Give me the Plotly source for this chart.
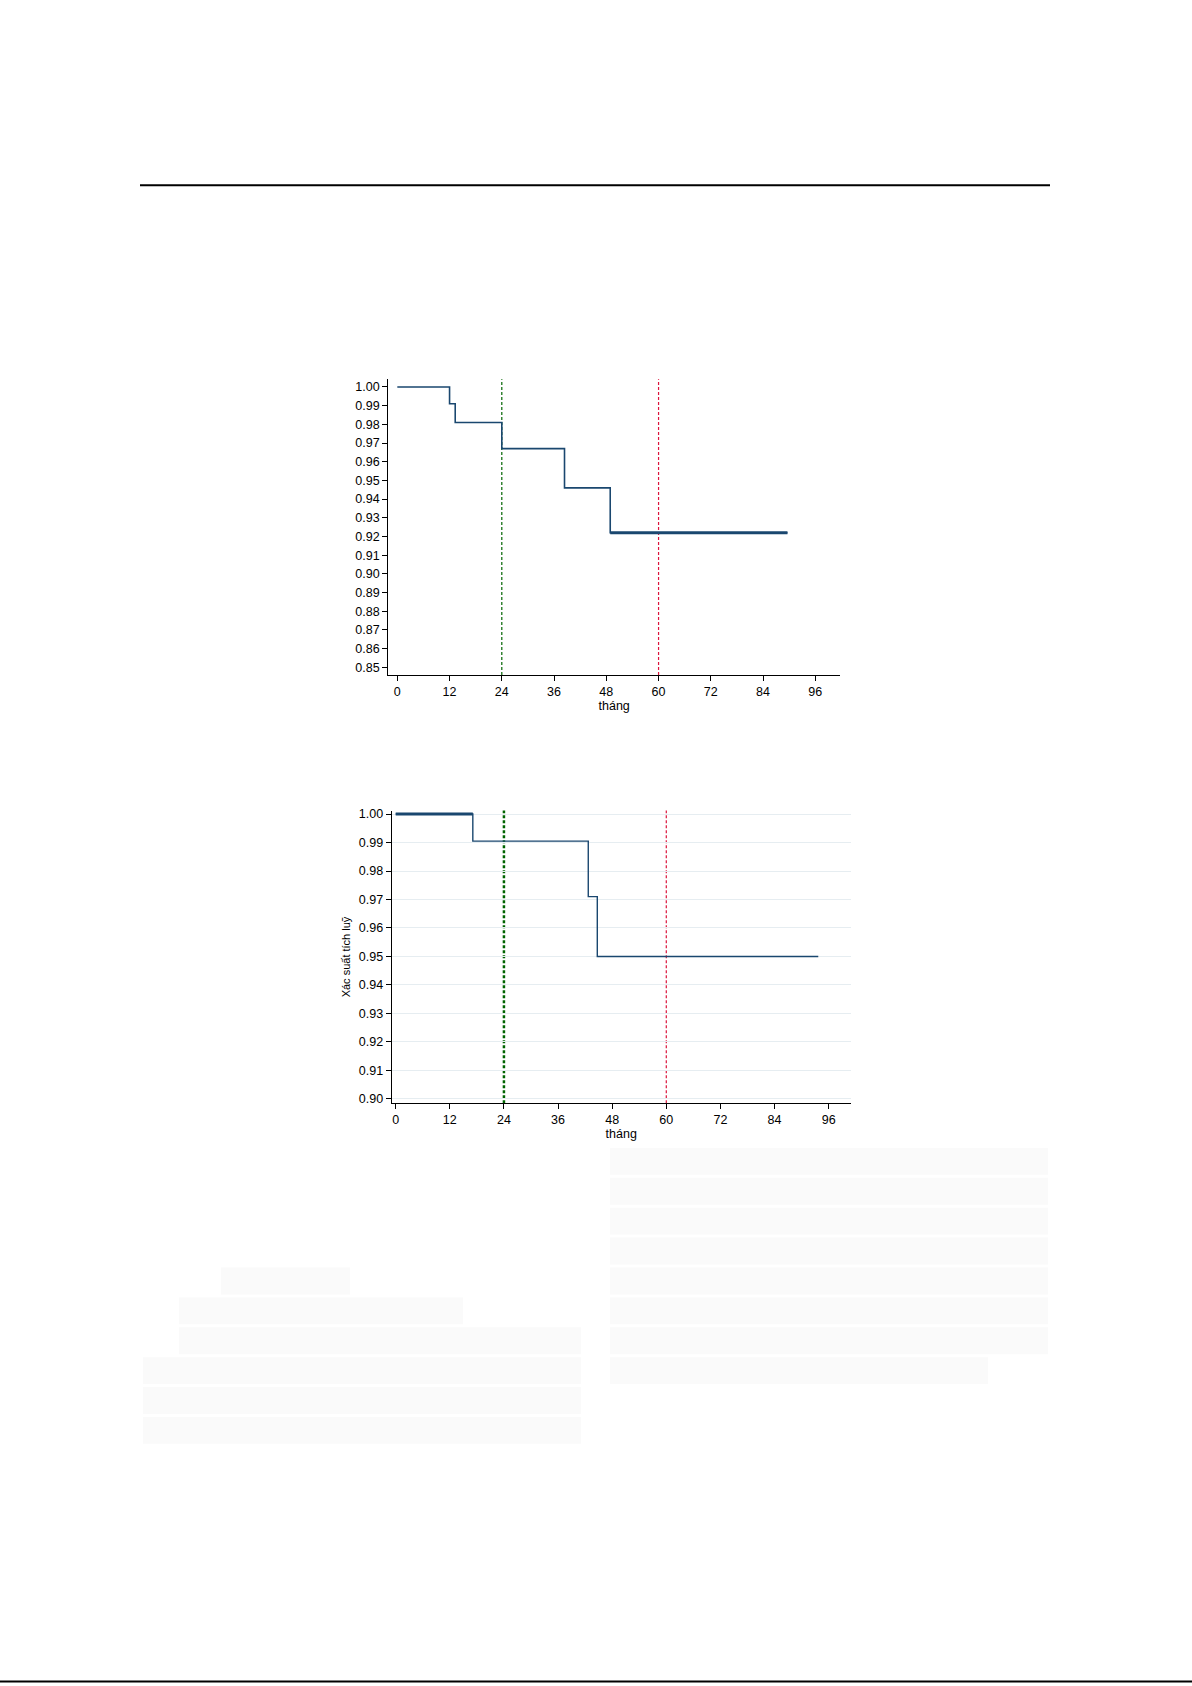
import plotly.graph_objects as go

# ---- data ----
months1 = [0, 12, 13.3, 24, 38.4, 48.9, 89.6]
surv1 = [1.0, 0.991, 0.981, 0.967, 0.946, 0.922, 0.922]
months2 = [0, 17.1, 42.7, 44.7, 93.7]
surv2 = [1.0, 0.9905, 0.971, 0.950, 0.950]
ref_months = [24, 60]
x_ticks = [0, 12, 24, 36, 48, 60, 72, 84, 96]
y_ticks1 = [round(0.85 + 0.01 * i, 2) for i in range(16)]
y_ticks2 = [round(0.90 + 0.01 * i, 2) for i in range(11)]
x_title = "tháng"
y_title2 = "Xác suất tích luỹ"

W, H = 1192, 1686
NAVY = "#1a476f"
GREEN = "#006400"
RED = "#dc143c"
FONT = "Liberation Sans, Arial, sans-serif"


def px(x):
    return x / W


def py(y):
    return 1 - y / H


fig = go.Figure()

# chart 1
fig.add_trace(go.Scatter(x=months1, y=surv1, mode="lines", line=dict(color=NAVY, width=1.6, shape="hv"),
                         xaxis="x", yaxis="y", showlegend=False, hoverinfo="skip"))
# thicker tail (dense censoring)
fig.add_trace(go.Scatter(x=months1[-2:], y=surv1[-2:], mode="lines", line=dict(color=NAVY, width=3, shape="hv"),
                         xaxis="x", yaxis="y", showlegend=False, hoverinfo="skip"))
# chart 2
fig.add_trace(go.Scatter(x=months2, y=surv2, mode="lines", line=dict(color=NAVY, width=1.4, shape="hv"),
                         xaxis="x2", yaxis="y2", showlegend=False, hoverinfo="skip"))
fig.add_trace(go.Scatter(x=months2[:2], y=[surv2[0], surv2[0]], mode="lines", line=dict(color=NAVY, width=3),
                         xaxis="x2", yaxis="y2", showlegend=False, hoverinfo="skip"))

shapes = []
# reference lines
shapes.append(dict(type="line", xref="x", yref="y domain", x0=ref_months[0], x1=ref_months[0], y0=0, y1=1,
                   line=dict(color=GREEN, width=1.2, dash="3px,2px"), layer="below"))
shapes.append(dict(type="line", xref="x", yref="y domain", x0=ref_months[1], x1=ref_months[1], y0=0, y1=1,
                   line=dict(color=RED, width=1.2, dash="3px,2px"), layer="below"))
shapes.append(dict(type="line", xref="x2", yref="y2 domain", x0=ref_months[0], x1=ref_months[0], y0=0, y1=1,
                   line=dict(color=GREEN, width=2.5, dash="3px,2px"), layer="below"))
shapes.append(dict(type="line", xref="x2", yref="y2 domain", x0=ref_months[1], x1=ref_months[1], y0=0, y1=1,
                   line=dict(color=RED, width=1.2, dash="3px,2px"), layer="below"))

# page decorations: rules
shapes.append(dict(type="line", xref="paper", yref="paper", x0=px(140), x1=px(1050), y0=py(183), y1=py(183),
                   line=dict(color="black", width=2)))
shapes.append(dict(type="line", xref="paper", yref="paper", x0=0, x1=1, y0=py(1684.5), y1=py(1684.5),
                   line=dict(color="black", width=2)))

# redacted text blocks (very light gray)
boxes = []
for i in range(8):
    top = 1149 + 30 * i
    right = 1048 if i < 7 else 988
    boxes.append((610, right, top))
boxes += [(221, 350, 1269), (179, 463, 1299), (179, 581, 1329),
          (143, 581, 1359), (143, 581, 1389), (143, 581, 1419)]
for (l, r, t) in boxes:
    shapes.append(dict(type="rect", xref="paper", yref="paper", x0=px(l), x1=px(r), y0=py(t + 27), y1=py(t),
                       fillcolor="#fafafa", line=dict(width=0), layer="below"))

axis_common = dict(showline=True, linecolor="black", linewidth=1.2, ticks="outside", ticklen=5,
                   tickcolor="black", tickwidth=1, zeroline=False,
                   tickfont=dict(family=FONT, size=12.5, color="black"))

fig.update_layout(
    width=W, height=H, margin=dict(l=0, r=0, t=0, b=0),
    paper_bgcolor="white", plot_bgcolor="white", showlegend=False,
    font=dict(family=FONT, color="black"),
    xaxis=dict(domain=[px(388.3), px(840)], anchor="y", range=[-2.07, 101.67],
               tickvals=x_ticks, showgrid=False,
               title=dict(text=x_title, font=dict(family=FONT, size=12.5), standoff=1), **axis_common),
    yaxis=dict(domain=[py(674.3), py(377.7)], anchor="x", range=[0.84595, 1.00405],
               tickvals=y_ticks1, ticktext=[f"{v:.2f}" for v in y_ticks1], showgrid=False, **axis_common),
    xaxis2=dict(domain=[px(391.7), px(850.7)], anchor="y2", range=[-0.887, 100.89],
                tickvals=x_ticks, showgrid=False,
                title=dict(text=x_title, font=dict(family=FONT, size=12.5), standoff=1), **axis_common),
    yaxis2=dict(domain=[py(1104.3), py(810.5)], anchor="x2", range=[0.89843, 1.0012],
                tickvals=y_ticks2, ticktext=[f"{v:.2f}" for v in y_ticks2],
                showgrid=True, gridcolor="#e6edf1", gridwidth=1,
                title=dict(text=y_title2, font=dict(family=FONT, size=11), standoff=5), **axis_common),
    shapes=shapes,
)

fig.write_html("out.html", config={"displayModeBar": False},
               post_script="document.body.style.margin='0';document.body.style.overflow='hidden';")
